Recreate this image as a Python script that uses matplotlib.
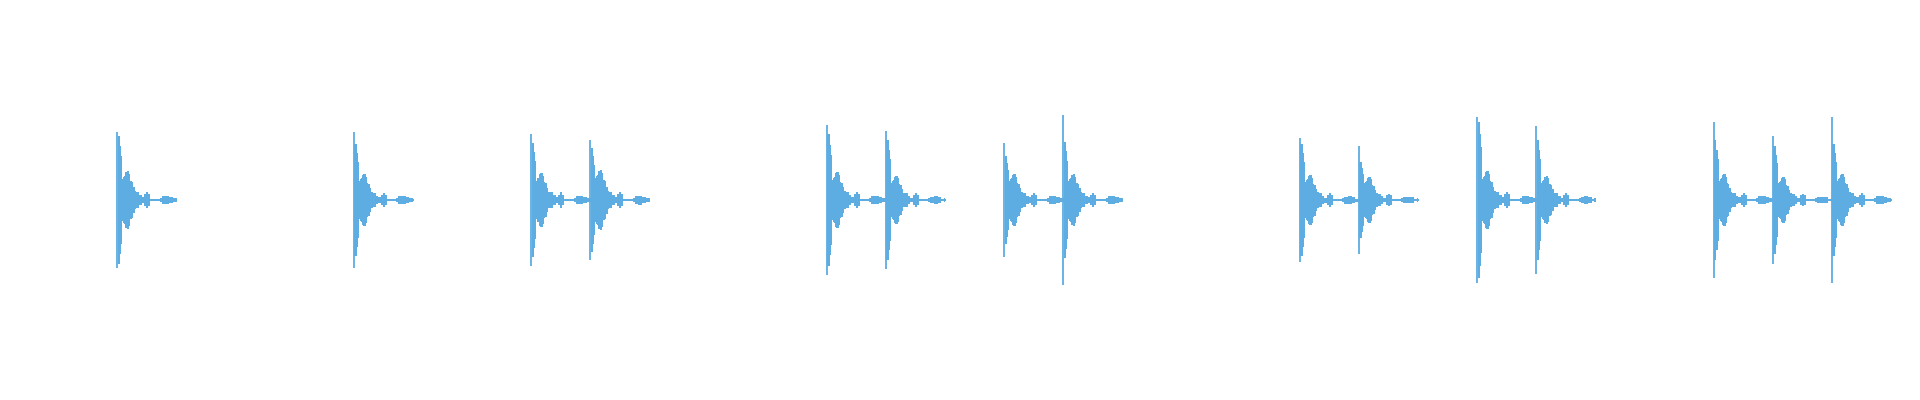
import numpy as np
import matplotlib
matplotlib.use("Agg")
import matplotlib.pyplot as plt

# drum hits: onset (beats), spike peak, early shoulder, decay hump (normalised amplitude)
onsets = [0, 4, 7, 8, 12, 13, 15, 16, 20, 21, 23, 24, 27, 28, 29]
peaks = [0.34, 0.34, 0.33, 0.30, 0.375, 0.345, 0.285, 0.425, 0.31, 0.27, 0.415, 0.37, 0.39, 0.32, 0.415]
shoulders = [0.32, 0.28, 0.285, 0.26, 0.33, 0.30, 0.22, 0.29, 0.28, 0.19, 0.39, 0.30, 0.30, 0.27, 0.28]
humps = [0.145, 0.13, 0.135, 0.15, 0.14, 0.12, 0.13, 0.13, 0.125, 0.115, 0.145, 0.12, 0.13, 0.115, 0.13]

# shape of one hit (offset in beats, fraction of level)
shoulder_beats = [0.008, 0.017, 0.034, 0.059, 0.076]
shoulder_amp = [1.0, 1.0, 1.0, 0.84, 0.68]
tail_beats = [0.093, 0.110, 0.127, 0.144, 0.169, 0.195, 0.212, 0.228, 0.254, 0.279, 0.305,
              0.330, 0.355, 0.389, 0.440, 0.474, 0.508, 0.541, 0.575, 0.643, 0.711, 0.728,
              0.778, 0.846, 0.914, 0.964, 0.998, 1.015]
tail_amp = [0.72, 0.80, 0.83, 0.97, 1.0, 1.0, 0.9, 0.66, 0.62, 0.45, 0.31,
            0.28, 0.28, 0.17, 0.10, 0.20, 0.28, 0.20, 0.04, 0.04, 0.04, 0.07,
            0.14, 0.15, 0.11, 0.06, 0.07, 0.02]

color = '#5DADE2'

fig = plt.figure(figsize=(19.2, 4), dpi=100)
ax = fig.add_axes([0, 0, 1, 1])

for t0, pk, sh, hp in zip(onsets, peaks, shoulders, humps):
    xs = np.array([t0 + b for b in shoulder_beats] + [t0 + b for b in tail_beats])
    env = np.array([sh * a for a in shoulder_amp] + [hp * a for a in tail_amp])
    env = np.maximum(env, 0.006)
    ax.fill_between(xs, -env, env, step='mid', color=color, linewidth=0)
    ax.vlines(t0, -pk, pk, color=color, linewidth=1.3)

ax.set_xlim(-1.984, 30.49)
ax.set_ylim(-1, 1)
ax.axis('off')

fig.savefig('out.png', dpi=100, facecolor='white')
